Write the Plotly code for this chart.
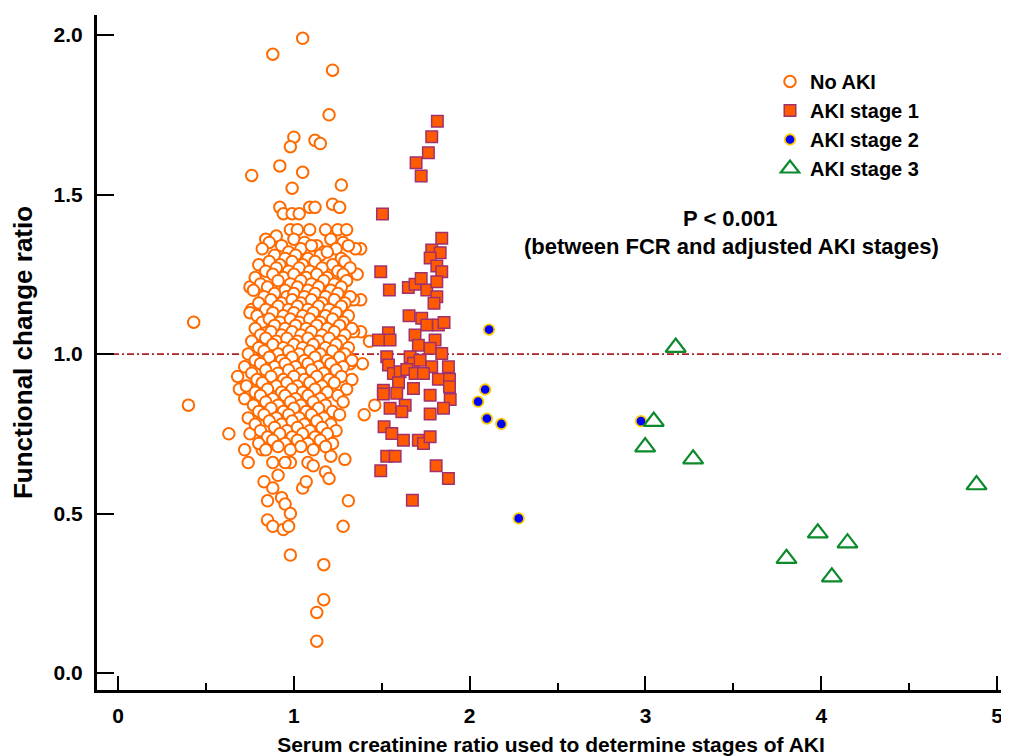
import plotly.graph_objects as go

# ---------------- data ----------------
noaki_x = [
    # outliers top
    1.05, 0.88, 1.22, 1.20, 1.00, 0.98, 1.12, 1.15, 0.92, 0.76, 1.05, 0.99, 1.27,
    0.92, 0.94, 0.99, 1.03, 1.09, 1.12, 1.22, 1.26,
    0.98, 1.02, 1.09, 1.18, 1.25, 1.30, 0.84, 0.90,
    # right edge
    1.38, 1.35, 1.38, 1.34, 1.38, 1.34, 1.43, 1.39, 1.32, 1.46, 1.40, 1.36,
    # left edge
    0.75, 0.76, 0.75, 0.68, 0.69, 0.76, 0.40, 0.43,
    # bottom
    0.63, 0.75, 0.84, 0.72, 0.74, 0.82, 0.88, 0.83, 0.88, 0.91, 0.85, 0.93,
    0.95, 0.98, 0.85, 0.88, 0.94, 0.97, 1.05, 1.07, 0.98, 0.95, 1.08, 1.11,
    1.18, 1.20, 1.21, 1.29, 1.31, 1.28, 0.98, 1.17, 1.17, 1.13, 1.13,
    # dense core, row by row
    0.86, 0.93, 1.00, 1.06, 1.13, 1.21, 1.28,
    0.82, 0.97, 1.04, 1.10, 1.17, 1.24, 1.31,
    0.89, 0.95, 1.01, 1.08, 1.15, 1.19, 1.27,
    0.80, 0.86, 0.92, 0.99, 1.05, 1.12, 1.22, 1.29,
    0.84, 0.90, 0.97, 1.03, 1.09, 1.16, 1.25, 1.32,
    0.78, 0.88, 0.94, 1.00, 1.07, 1.13, 1.19, 1.28,
    0.81, 0.91, 0.98, 1.04, 1.10, 1.17, 1.23, 1.30,
    0.77, 0.85, 0.95, 1.02, 1.08, 1.14, 1.21, 1.27,
    0.83, 0.89, 0.96, 1.00, 1.06, 1.12, 1.18, 1.25, 1.32,
    0.80, 0.87, 0.93, 0.99, 1.04, 1.10, 1.16, 1.23, 1.29,
    0.84, 0.91, 0.97, 1.02, 1.08, 1.14, 1.20, 1.27,
    0.79, 0.88, 0.94, 1.00, 1.05, 1.11, 1.18, 1.24, 1.31,
    0.82, 0.86, 0.92, 0.98, 1.03, 1.09, 1.15, 1.22, 1.28,
    0.78, 0.89, 0.95, 1.01, 1.07, 1.13, 1.19, 1.26, 1.33,
    0.81, 0.87, 0.93, 0.99, 1.04, 1.10, 1.16, 1.23, 1.29,
    0.76, 0.84, 0.90, 0.96, 1.02, 1.08, 1.14, 1.20, 1.27,
    0.80, 0.88, 0.94, 1.00, 1.05, 1.11, 1.18, 1.24, 1.31,
    0.74, 0.83, 0.91, 0.97, 1.03, 1.09, 1.15, 1.22, 1.29,
    0.78, 0.86, 0.93, 0.99, 1.06, 1.12, 1.19, 1.26, 1.33,
    0.72, 0.81, 0.89, 0.95, 1.01, 1.08, 1.14, 1.21, 1.28,
    0.76, 0.84, 0.91, 0.97, 1.04, 1.10, 1.17, 1.24,
    0.79, 0.87, 0.94, 1.00, 1.06, 1.13, 1.20, 1.27, 1.33,
    0.73, 0.82, 0.90, 0.96, 1.02, 1.09, 1.16, 1.23,
    0.78, 0.85, 0.93, 0.99, 1.05, 1.12, 1.19, 1.30,
    0.72, 0.81, 0.88, 0.95, 1.01, 1.08, 1.15, 1.25,
    0.77, 0.84, 0.91, 0.98, 1.04, 1.11, 1.18, 1.28,
    0.80, 0.87, 0.94, 1.00, 1.07, 1.14, 1.22,
    0.74, 0.83, 0.90, 0.97, 1.03, 1.10, 1.17, 1.26,
    0.78, 0.86, 0.93, 0.99, 1.06, 1.13, 1.21,
    0.81, 0.89, 0.96, 1.02, 1.09, 1.16, 1.24,
    0.85, 0.92, 0.99, 1.05, 1.12, 1.19,
    0.80, 0.88, 0.95, 1.02, 1.08, 1.15, 1.22,
    0.84, 0.91, 0.98, 1.04, 1.11, 1.18,
]
noaki_y = [
    1.99, 1.94, 1.89, 1.75, 1.68, 1.65, 1.67, 1.66, 1.59, 1.56, 1.57, 1.52, 1.53,
    1.46, 1.44, 1.44, 1.44, 1.46, 1.46, 1.47, 1.46,
    1.39, 1.39, 1.39, 1.39, 1.39, 1.39, 1.36, 1.37,
    1.33, 1.33, 1.17, 1.17, 1.07, 1.07, 1.04, 0.97, 0.97, 0.84, 0.81, 1.25,
    1.21, 1.14, 1.13, 0.93, 0.89, 0.88, 0.84, 1.10,
    0.75, 0.75, 0.74, 0.70, 0.66, 0.70, 0.66, 0.60, 0.58, 0.62, 0.54, 0.55,
    0.53, 0.50, 0.48, 0.46, 0.45, 0.46, 0.58, 0.60, 0.66, 0.66, 0.66, 0.65,
    0.63, 0.61, 0.68, 0.67, 0.54, 0.46, 0.37, 0.34, 0.23, 0.19, 0.10,
    1.35, 1.34, 1.36, 1.35, 1.34, 1.36, 1.35,
    1.33, 1.32, 1.33, 1.34, 1.32, 1.33, 1.34,
    1.31, 1.30, 1.31, 1.30, 1.31, 1.32, 1.30,
    1.28, 1.29, 1.28, 1.29, 1.28, 1.29, 1.28, 1.29,
    1.26, 1.27, 1.26, 1.27, 1.26, 1.27, 1.26, 1.27,
    1.24, 1.25, 1.24, 1.25, 1.24, 1.25, 1.24, 1.25,
    1.22, 1.23, 1.22, 1.23, 1.22, 1.23, 1.22, 1.23,
    1.20, 1.21, 1.20, 1.21, 1.20, 1.21, 1.20, 1.21,
    1.18, 1.19, 1.18, 1.19, 1.18, 1.19, 1.18, 1.19, 1.18,
    1.16, 1.17, 1.16, 1.17, 1.16, 1.17, 1.16, 1.17, 1.16,
    1.14, 1.15, 1.14, 1.15, 1.14, 1.15, 1.14, 1.15,
    1.12, 1.13, 1.12, 1.13, 1.12, 1.13, 1.12, 1.13, 1.12,
    1.10, 1.11, 1.10, 1.11, 1.10, 1.11, 1.10, 1.11, 1.10,
    1.08, 1.09, 1.08, 1.09, 1.08, 1.09, 1.08, 1.09, 1.08,
    1.06, 1.07, 1.06, 1.07, 1.06, 1.07, 1.06, 1.07, 1.06,
    1.04, 1.05, 1.04, 1.05, 1.04, 1.05, 1.04, 1.05, 1.04,
    1.02, 1.03, 1.02, 1.03, 1.02, 1.03, 1.02, 1.03, 1.02,
    1.00, 1.01, 1.00, 1.01, 1.00, 1.01, 1.00, 1.01, 1.00,
    0.98, 0.99, 0.98, 0.99, 0.98, 0.99, 0.98, 0.99, 0.98,
    0.96, 0.97, 0.96, 0.97, 0.96, 0.97, 0.96, 0.97, 0.96,
    0.94, 0.95, 0.94, 0.95, 0.94, 0.95, 0.94, 0.95,
    0.92, 0.93, 0.92, 0.93, 0.92, 0.93, 0.92, 0.93, 0.92,
    0.90, 0.91, 0.90, 0.91, 0.90, 0.91, 0.90, 0.91,
    0.88, 0.89, 0.88, 0.89, 0.88, 0.89, 0.88, 0.89,
    0.86, 0.87, 0.86, 0.87, 0.86, 0.87, 0.86, 0.87,
    0.84, 0.85, 0.84, 0.85, 0.84, 0.85, 0.84, 0.85,
    0.82, 0.83, 0.82, 0.83, 0.82, 0.83, 0.82,
    0.80, 0.81, 0.80, 0.81, 0.80, 0.81, 0.80, 0.81,
    0.78, 0.79, 0.78, 0.79, 0.78, 0.79, 0.78,
    0.76, 0.77, 0.76, 0.77, 0.76, 0.77, 0.76,
    0.74, 0.75, 0.74, 0.75, 0.74, 0.75,
    0.72, 0.73, 0.72, 0.73, 0.72, 0.73, 0.72,
    0.70, 0.71, 0.70, 0.71, 0.70, 0.71,
]

stage1_x = [1.816, 1.784, 1.765, 1.695, 1.724, 1.504, 1.841, 1.784, 1.832, 1.775,
            1.813, 1.841, 1.494, 1.543, 1.651, 1.689, 1.724, 1.756, 1.813, 1.813,
            1.797, 1.655, 1.727, 1.756, 1.822, 1.854, 1.538, 1.547, 1.481, 1.689,
            1.708, 1.803, 1.775, 1.528, 1.538, 1.661, 1.680, 1.718, 1.841, 1.784,
            1.879, 1.566, 1.604, 1.642, 1.689, 1.737, 1.595, 1.680, 1.822, 1.885,
            1.885, 1.509, 1.509, 1.585, 1.775, 1.889, 1.851, 1.547, 1.633, 1.614,
            1.775, 1.513, 1.557, 1.623, 1.708, 1.737, 1.775, 1.528, 1.576, 1.494,
            1.809, 1.879, 1.674]
stage1_y = [1.730, 1.681, 1.631, 1.600, 1.558, 1.439, 1.363, 1.326, 1.318, 1.301,
            1.276, 1.258, 1.258, 1.201, 1.209, 1.219, 1.237, 1.201, 1.227, 1.180,
            1.159, 1.120, 1.112, 1.091, 1.091, 1.099, 1.067, 1.044, 1.044, 1.060,
            1.028, 1.044, 1.018, 0.992, 0.966, 0.992, 0.971, 0.981, 1.002, 0.960,
            0.960, 0.939, 0.945, 0.952, 0.939, 0.939, 0.910, 0.892, 0.921, 0.921,
            0.898, 0.887, 0.875, 0.877, 0.871, 0.858, 0.830, 0.830, 0.840, 0.819,
            0.812, 0.772, 0.751, 0.730, 0.730, 0.720, 0.741, 0.680, 0.680, 0.634,
            0.650, 0.610, 0.542]

stage2_x = [2.110, 2.088, 2.048, 2.098, 2.180, 2.279, 2.974]
stage2_y = [1.077, 0.889, 0.851, 0.798, 0.781, 0.485, 0.790]

stage3_x = [3.172, 3.047, 2.998, 3.271, 4.883, 3.980, 4.149, 3.802, 4.060]
stage3_y = [1.021, 0.789, 0.709, 0.671, 0.590, 0.439, 0.408, 0.359, 0.301]

x_ticks = [0, 1, 2, 3, 4, 5]
y_ticks = [0.0, 0.5, 1.0, 1.5, 2.0]
ref_level = 1.0

FONT = "Liberation Sans, Arial, Helvetica, sans-serif"

# page offset of the plot div inside the browser (default body margin)
OFF = 8
W, H = 1009 - OFF, 756 - OFF
# plot area in screenshot pixels: left 97, top 15, right 1005, bottom 690
ML, MT = 97 - OFF, 15 - OFF
MR, MB = W - (1005 - OFF), H - (690 - OFF)
pw, ph = W - ML - MR, H - MT - MB


def px2paper_x(px):
    return (px - OFF - ML) / pw


def px2paper_y(py):
    return 1 - (py - OFF - MT) / ph


fig = go.Figure()
fig.add_trace(go.Scatter(
    x=noaki_x, y=noaki_y, mode="markers", name="No AKI",
    marker=dict(symbol="circle", size=11.5, color="white",
                line=dict(color="#FF6A00", width=2))))
fig.add_trace(go.Scatter(
    x=stage1_x, y=stage1_y, mode="markers", name="AKI stage 1",
    marker=dict(symbol="square", size=11.5, color="#FF5A00",
                line=dict(color="#A0306E", width=1.5))))
fig.add_trace(go.Scatter(
    x=stage2_x, y=stage2_y, mode="markers", name="AKI stage 2",
    marker=dict(symbol="circle", size=10.5, color="#0000FF",
                line=dict(color="#FFCC00", width=1.8))))
fig.add_trace(go.Scatter(
    x=stage3_x, y=stage3_y, mode="markers", name="AKI stage 3",
    marker=dict(symbol="triangle-up-open", size=17.5, color="#0A8A2A",
                line=dict(color="#0A8A2A", width=2.2))))

fig.add_shape(type="line", xref="paper", x0=0, x1=1, yref="y",
              y0=ref_level, y1=ref_level, layer="below",
              line=dict(color="#B0202A", width=1.6, dash="7px,3px,2px,3px"))

fig.add_annotation(x=px2paper_x(730), y=px2paper_y(218), xref="paper", yref="paper",
                   xanchor="center", yanchor="middle", text="P < 0.001", showarrow=False,
                   font=dict(family=FONT, size=22, color="black", weight="bold"))
fig.add_annotation(x=px2paper_x(731), y=px2paper_y(246), xref="paper", yref="paper",
                   xanchor="center", yanchor="middle",
                   text="(between FCR and adjusted AKI stages)", showarrow=False,
                   font=dict(family=FONT, size=22, color="black", weight="bold"))

fig.update_layout(
    width=W, height=H,
    margin=dict(l=ML, r=MR, t=MT, b=MB, autoexpand=False),
    paper_bgcolor="white", plot_bgcolor="white",
    font=dict(family=FONT, color="black"),
    showlegend=True,
    legend=dict(x=px2paper_x(770), y=px2paper_y(62), xanchor="left", yanchor="top",
                bgcolor="rgba(0,0,0,0)", tracegroupgap=0,
                font=dict(family=FONT, size=20, color="black", weight="bold")),
    xaxis=dict(range=[-0.12, 5.045], showgrid=False, zeroline=False,
               showline=True, linecolor="black", linewidth=3,
               ticks="inside", ticklen=14, tickwidth=2, tickcolor="black",
               tickvals=x_ticks, ticktext=[str(v) for v in x_ticks],
               minor=dict(dtick=0.5, tick0=0, ticks="inside", ticklen=7, tickwidth=1.5,
                          tickcolor="black"),
               tickfont=dict(family=FONT, size=21, color="black", weight="bold"),
               ticklabelstandoff=5,
               title=dict(text="Serum creatinine ratio used to determine stages of AKI",
                          font=dict(family=FONT, size=21, color="black", weight="bold"),
                          standoff=12)),
    yaxis=dict(range=[-0.053, 2.063], showgrid=False, zeroline=False,
               showline=True, linecolor="black", linewidth=3,
               ticks="inside", ticklen=17, tickwidth=2, tickcolor="black",
               tickvals=y_ticks, ticktext=["%.1f" % v for v in y_ticks],
               tickfont=dict(family=FONT, size=21, color="black", weight="bold"),
               ticklabelstandoff=7,
               title=dict(text="Functional change ratio",
                          font=dict(family=FONT, size=26, color="black", weight="bold"),
                          standoff=14)),
)

fig.write_html("out.html")
